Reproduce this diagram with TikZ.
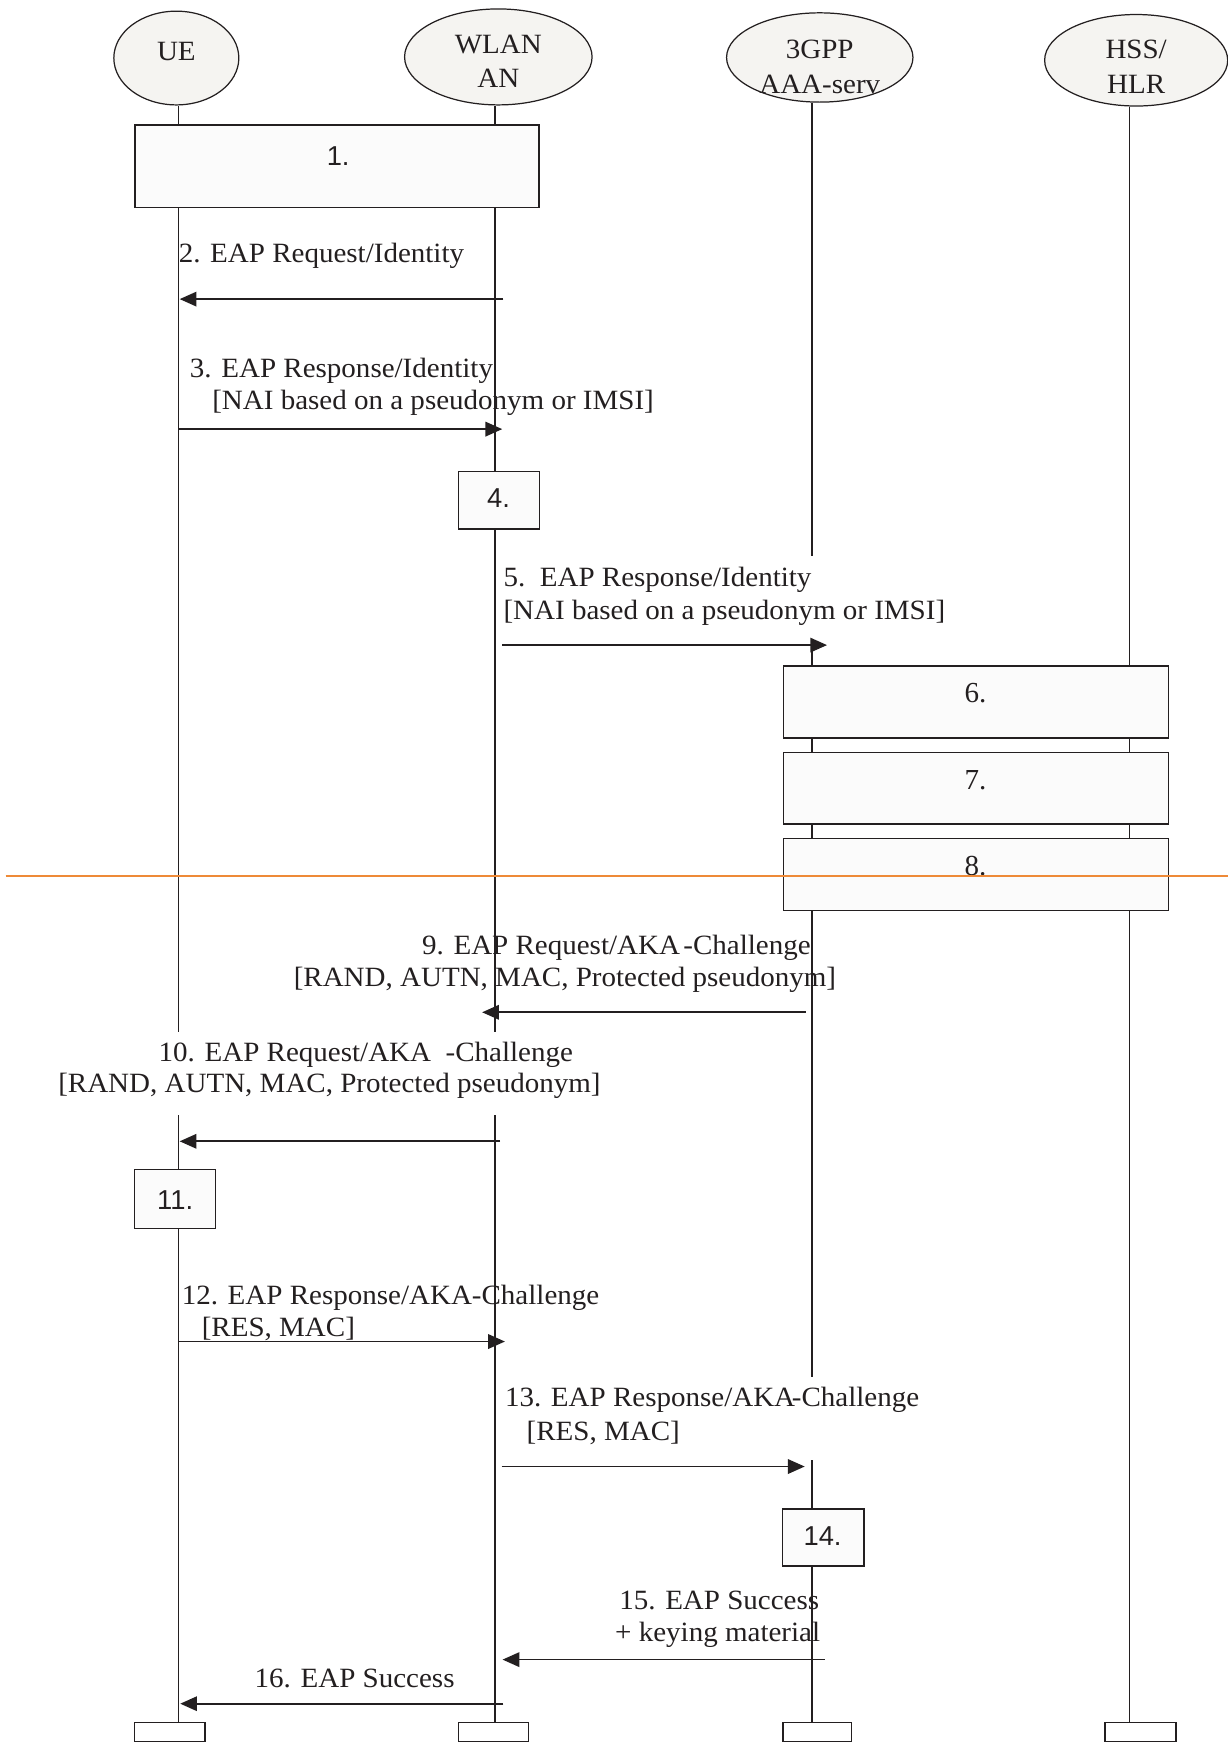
\documentclass[tikz,border=0pt]{standalone}
\usepackage{fontspec}
\setmainfont{Liberation Serif}
\newfontfamily\msgfont{Liberation Serif}[FakeStretch=1.04]
\newfontfamily\numsans{Liberation Sans}
\usetikzlibrary{arrows.meta,shapes.geometric}
\definecolor{ink}{RGB}{35,31,32}
\definecolor{hdrfill}{RGB}{245,244,241}
\definecolor{boxfill}{RGB}{251,251,251}
\definecolor{cutline}{RGB}{238,138,56}

\begin{document}
\begin{tikzpicture}[x=1pt,y=-1pt,
  actor/.style={ellipse, draw=ink, line width=1.1pt, fill=hdrfill, inner sep=0pt},
  hdrtext/.style={font=\msgfont\fontsize{25}{29}\selectfont, text=ink, inner sep=0pt, anchor=base},
  lifeline/.style={draw=ink, line width=1.2pt},
  procbox/.style={rectangle, draw=ink, line width=1.2pt, fill=boxfill, inner sep=0pt},
  endbox/.style={rectangle, draw=ink, line width=1.3pt, fill=white, inner sep=0pt, minimum height=17pt},
  msg/.style={draw=ink, line width=1.5pt, -{Triangle[length=15pt,width=13pt]}},
  msgtext/.style={font=\msgfont\fontsize{25}{29}\selectfont, text=ink, anchor=base west, inner sep=0pt},
  sansnum/.style={font=\numsans\fontsize{24.5}{28}\selectfont, text=ink, inner sep=0pt},
  serifnum/.style={font=\fontsize{26}{30}\selectfont, text=ink, inner sep=0pt},
]
\useasboundingbox[fill=white] (0,0) rectangle (1100,1568);

% ---- actors -------------------------------------------------------
\node[actor, minimum width=112pt, minimum height=84pt] (ue)   at (158,52)    {};
\node[actor, minimum width=168pt, minimum height=86pt] (wlan) at (446.5,51)  {};
\node[actor, minimum width=167pt, minimum height=80pt] (aaa)  at (734.5,51.5){};
\node[actor, minimum width=164pt, minimum height=82pt] (hss)  at (1018,54)   {};

\node[hdrtext] (ueT)   at (158,54.5)   {UE};
\node[hdrtext] (wlanT) at (446.5,47.5) {WLAN};
\node[hdrtext] (wlanB) at (446.5,78)   {AN};
\node[hdrtext] (aaaT)  at (734.5,52.5) {3GPP};
\node[hdrtext] (aaaB)  at (734.5,84)   {AAA-serv};
\node[hdrtext] (hssT)  at (1018,52.5)  {HSS/};
\node[hdrtext] (hssB)  at (1018,83.5)  {HLR};

% ---- end markers of the lifelines --------------------------------
\node[endbox, minimum width=63pt]   (ueEnd)   at (152.2,1552) {};
\node[endbox, minimum width=62.5pt] (wlanEnd) at (442.3,1552) {};
\node[endbox, minimum width=61.5pt] (aaaEnd)  at (732.3,1552) {};
\node[endbox, minimum width=63.5pt] (hssEnd)  at (1021.8,1552){};

% ---- lifelines ----------------------------------------------------
\coordinate (xue) at (160,0);
\coordinate (xwl) at (443.5,0);
\coordinate (xaa) at (727.5,0);
\coordinate (xhs) at (1012,0);
\draw[lifeline] (ue.south -| xue)   -- (ueEnd.north -| xue);
\draw[lifeline] (wlan.south -| xwl) -- (wlanEnd.north -| xwl);
\draw[lifeline] (aaa.south -| xaa)  -- (aaaEnd.north -| xaa);
\draw[lifeline] (hss.south -| xhs)  -- (hssEnd.north -| xhs);

% white grounds behind the labels that interrupt the lifelines
\fill[white] (448,498) rectangle (850,574);
\fill[white] (48,925) rectangle (542,999);
\fill[white] (450,1234) rectangle (822,1308);

% ---- processing boxes ---------------------------------------------
\node[procbox, minimum width=362pt, minimum height=74pt]   (b1)  at (302,149)     {};
\node[procbox, minimum width=72.4pt, minimum height=51.5pt] (b4) at (447.2,448.2) {};
\node[procbox, minimum width=345pt, minimum height=64.7pt] (b6)  at (874.5,629)   {};
\node[procbox, minimum width=345pt, minimum height=64.4pt] (b7)  at (874.5,706.2) {};
\node[procbox, minimum width=345pt, minimum height=64.5pt] (b8)  at (874.5,783.8) {};
\node[procbox, minimum width=72.6pt, minimum height=53pt]  (b11) at (156.7,1074.5){};
\node[procbox, minimum width=73pt, minimum height=51pt]    (b14) at (737.5,1377.5){};

\node[sansnum]  (b1t)  at (303,139.5)  {1.};
\node[sansnum]  (b4t)  at (446.7,446)  {4.};
\node[serifnum] (b6t)  at (874,621)    {6.};
\node[serifnum] (b7t)  at (874,699.5)  {7.};
\node[serifnum] (b8t)  at (874,776)    {8.};
\node[sansnum]  (b11t) at (157,1075)   {11.};
\node[sansnum]  (b14t) at (737,1376)   {14.};

% ---- messages -----------------------------------------------------
\coordinate (m2a)  at (451,268);    \coordinate (m2b)  at (161,268);
\coordinate (m3a)  at (160,384.5);  \coordinate (m3b)  at (450,384.5);
\coordinate (m5a)  at (450,578);    \coordinate (m5b)  at (741,578);
\coordinate (m9a)  at (722,907);    \coordinate (m9b)  at (432,907);
\coordinate (m10a) at (448,1022.6); \coordinate (m10b) at (161,1022.6);
\coordinate (m12a) at (160,1202);   \coordinate (m12b) at (452.4,1202);
\coordinate (m13a) at (449.4,1314); \coordinate (m13b) at (721,1314);
\coordinate (m15a) at (739,1487);   \coordinate (m15b) at (450.3,1487);
\coordinate (m16a) at (451,1526.5); \coordinate (m16b) at (161.5,1526.5);

\draw[msg] (m2a) -- (m2b);
\draw[msg] (m3a) -- (m3b);
\draw[msg] (m5a) -- (m5b);
\draw[msg] (m9a) -- (m9b);
\draw[msg] (m10a) -- (m10b);
\draw[msg] (m12a) -- (m12b);
\draw[msg] (m13a) -- (m13b);
\draw[msg] (m15a) -- (m15b);
\draw[msg] (m16a) -- (m16b);

% ---- message labels -----------------------------------------------
\node[msgtext] (t2)   at (160,235)     {2. EAP Request/Identity};
\node[msgtext] (t3a)  at (170,338)     {3. EAP Response/Identity};
\node[msgtext] (t3b)  at (190,367)     {[NAI based on a pseudonym or IMSI]};
\node[msgtext] (t5a)  at (451,525.5)   {5.\ \ EAP Response/Identity};
\node[msgtext] (t5b)  at (451,555.4)   {[NAI based on a pseudonym or IMSI]};
\node[msgtext] (t9a)  at (378,855)     {9. EAP Request/AKA\kern3pt-Challenge};
\node[msgtext] (t9b)  at (263,884)     {[RAND, AUTN, MAC, Protected pseudonym]};
\node[msgtext] (t10a) at (142,951)     {10. EAP Request/AKA\ \ -Challenge};
\node[msgtext] (t10b) at (52,979)      {[RAND, AUTN, MAC, Protected pseudonym]};
\node[msgtext] (t12a) at (162.7,1169)  {12. EAP Response/AKA-Challenge};
\node[msgtext] (t12b) at (180.6,1197.5){[RES, MAC]};
\node[msgtext] (t13a) at (452.3,1260.6){13. EAP Response/AKA\kern-3pt-Challenge};
\node[msgtext] (t13b) at (471.7,1291)  {[RES, MAC]};
\node[msgtext] (t15a) at (554.7,1442)  {15. EAP Success};
\node[msgtext] (t15b) at (551,1470.5)  {+ keying material};
\node[msgtext] (t16)  at (228,1512)    {16. EAP Success};

% ---- section marker across the flow ---------------------------------
\coordinate (cutL) at (5,784.7);
\coordinate (cutR) at (1100,784.7);
\draw[cutline, line width=1.6pt] (cutL) -- (cutR);
\end{tikzpicture}
\end{document}
